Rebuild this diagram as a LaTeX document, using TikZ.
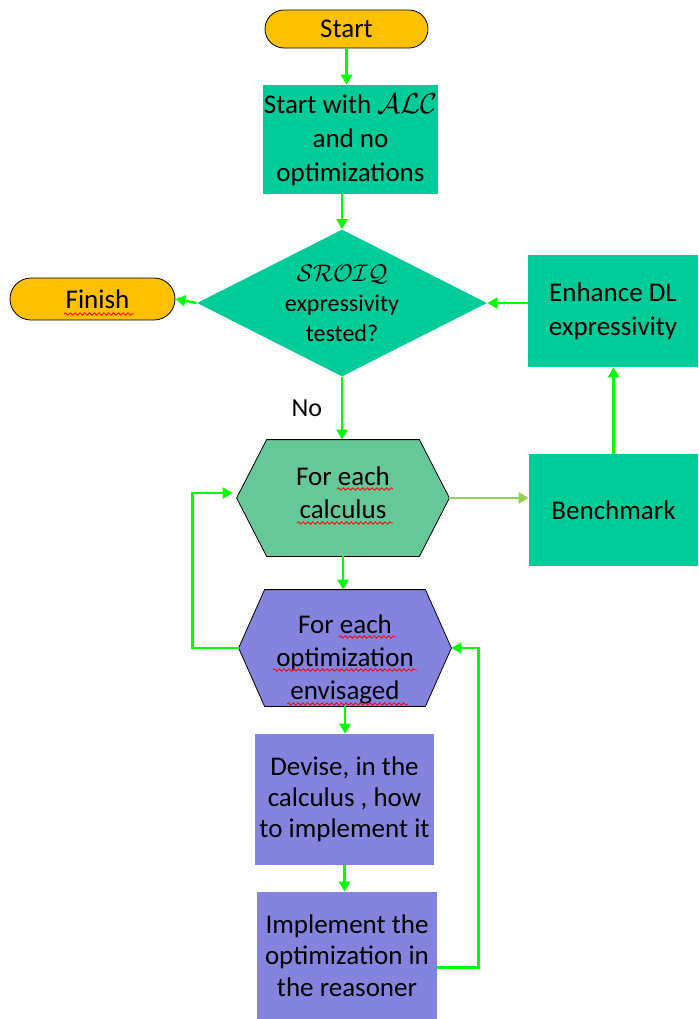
\documentclass[tikz,border=0pt]{standalone}
\usepackage{fontspec}
\setmainfont{Carlito}
\usetikzlibrary{arrows.meta, positioning, calc, shapes.geometric, shapes.misc, backgrounds, decorations.pathmorphing}
\definecolor{termorange}{HTML}{FFC000}
\definecolor{stepteal}{HTML}{00CC99}
\definecolor{loopteal}{HTML}{66C899}
\definecolor{steppurple}{HTML}{8484DE}
\definecolor{flowgreen}{HTML}{00FF00}
\definecolor{flowlight}{HTML}{92D050}
\tikzset{
	terminal/.style={rounded rectangle, draw, thin, fill=termorange, inner sep=0pt, font=\fontsize{13.5}{17}\selectfont},
	stepbox/.style={rectangle, inner sep=0pt, align=center, font=\fontsize{13.5}{17}\selectfont},
	decision/.style={diamond, fill=stepteal, shape aspect=2, inner sep=0pt, align=center, font=\fontsize{12}{15}\selectfont},
	loopbox/.style={rectangle, inner sep=0pt, align=center, font=\fontsize{13.5}{16.5}\selectfont},
	flow/.style={draw=flowgreen, line width=1.2pt, -{Triangle[length=5pt,width=5.5pt]}},
	flowlite/.style={flow, draw=flowlight},
	spellwave/.style={draw=red, line width=0.4pt, decorate, decoration={snake, amplitude=0.6pt, segment length=2.4pt}}
}
\begin{document}
\begin{tikzpicture}[x=0.5pt, y=-0.5pt]
	\useasboundingbox (0,0) rectangle (698,1019);
	
	% --- main column ---
	\node[terminal, minimum width=81.5pt, minimum height=19pt] (start) at (346.5, 29) {Start};
	\node[stepbox, fill=stepteal, minimum width=87.5pt, minimum height=54.5pt] (alc) at (350.5, 139.5) {Start with $\mathcal{ALC}$\\and no\\optimizations};
	\node[decision, minimum width=145pt, minimum height=73.5pt] (test) at (342, 303) {$\mathcal{SROIQ}$\\expressivity\\tested?};
	\node[terminal, minimum width=82.5pt, minimum height=21pt] (finish) at (92.5, 299) {\hspace*{5pt}Finish};
	
	% --- right column ---
	\node[stepbox, fill=stepteal, minimum width=85pt, minimum height=56pt] (enhance) at (613, 311) {Enhance DL\\expressivity};
	\node[stepbox, fill=stepteal, minimum width=84.5pt, minimum height=56pt] (bench) at (613.5, 510) {Benchmark};
	
	% --- loops ---
	\node[loopbox, minimum width=106pt, minimum height=58pt] (calc) at (343, 498) {For each\\calculus\rule[-5pt]{0pt}{0pt}};
	\node[loopbox, minimum width=106pt, minimum height=58pt] (optim) at (345, 648) {\rule{0pt}{20.5pt}For each\\optimization\\envisaged};
	\begin{scope}[on background layer]
		\foreach \hex/\hcol/\cut in {calc/loopteal/15pt, optim/steppurple/13pt}
			\draw[thin, fill=\hcol] (\hex.west) -- ([xshift=\cut]\hex.north west) -- ([xshift=-\cut]\hex.north east)
				-- (\hex.east) -- ([xshift=-\cut]\hex.south east) -- ([xshift=\cut]\hex.south west) -- cycle;
	\end{scope}
	
	% spell-check marks
	\foreach \xa/\xb/\yy in {64/134/314, 337/393/489, 297/393/523, 339/395/637, 273/417/670, 287/408/704}
		\draw[spellwave] (\xa,\yy) -- (\xb,\yy);
	
	% --- inner steps ---
	\node[stepbox, fill=steppurple, minimum width=89.5pt, minimum height=65.5pt, font=\fontsize{13.5}{15.5}\selectfont] (devise) at (344.5, 799.5) {Devise, in the\\calculus , how\\to implement it};
	\node[stepbox, fill=steppurple, minimum width=90pt, minimum height=63.5pt, font=\fontsize{13.5}{15.75}\selectfont] (impl) at (347, 955.5) {Implement the\\optimization in\\the reasoner};
	
	% --- connectors ---
	\draw[flow] (start.south) -- (start.south |- alc.north);
	\draw[flow] (test.north |- alc.south) -- (test.north);
	\draw[flow] (test.west) -- (finish.east);
	\draw[flow] (enhance.west |- test.east) -- (test.east);
	\draw[flow] (test.south) -- node[left, font=\fontsize{13}{15}\selectfont, xshift=-6pt] (no) {No} (test.south |- calc.north);
	\draw[flowlite] (calc.east) -- (bench.west |- calc.east);
	\draw[flow] (bench.north) -- (bench.north |- enhance.south);
	\draw[flow] (calc.south) -- (calc.south |- optim.north);
	\draw[flow] (optim.west) -- ++(-46,0) |- ([xshift=-2pt, yshift=2.5pt]calc.west);
	\draw[flow] (optim.south) -- (optim.south |- devise.north);
	\draw[flow] (devise.south) -- (devise.south |- impl.north);
	\draw[flow] ([yshift=-6pt]impl.east) -- ++(41,0) |- (optim.east);
	
\end{tikzpicture}
\end{document}
